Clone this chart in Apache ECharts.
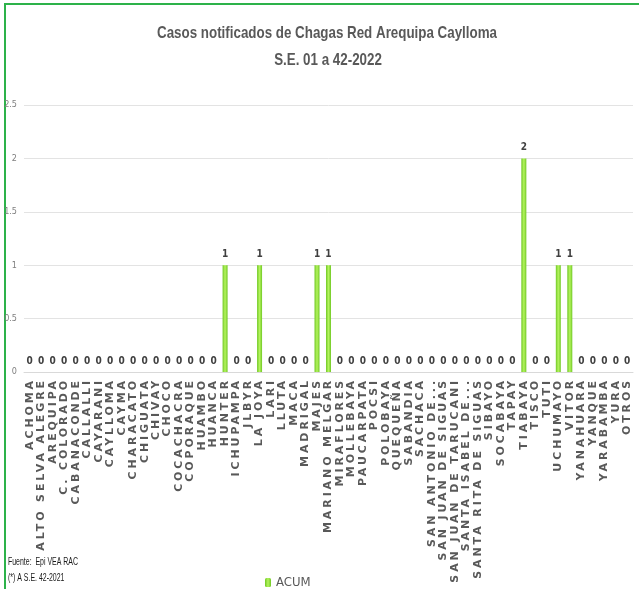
<!DOCTYPE html>
<html><head><meta charset="utf-8">
<script src="https://cdn.jsdelivr.net/npm/echarts@6/dist/echarts.min.js"></script>
<style>html,body{margin:0;padding:0;background:#fff}#c{width:639px;height:589px}</style>
</head><body><div id="c"></div>
<script>
const categories = ["ACHOMA","ALTO SELVA ALEGRE","AREQUIPA","C. COLORADO","CABANACONDE","CALLALLI","CAYARANI","CAYLLOMA","CAYMA","CHARACATO","CHIGUATA","CHIVAY","CHOCO","COCACHACRA","COPORAQUE","HUAMBO","HUANCA","HUNTER","ICHUPAMPA","JLBYR","LA JOYA","LARI","LLUTA","MACA","MADRIGAL","MAJES","MARIANO MELGAR","MIRAFLORES","MOLLEBAYA","PAUCARPATA","POCSI","POLOBAYA","QUEQUEÑA","SABANDIA","SACHACA","SAN ANTONIO DE...","SAN JUAN DE SIGUAS","SAN JUAN DE TARUCANI","SANTA ISABEL DE...","SANTA RITA DE SIGUAS","SIBAYO","SOCABAYA","TAPAY","TIABAYA","TISCO","TUTI","UCHUMAYO","VITOR","YANAHUARA","YANQUE","YARABAMBA","YURA","OTROS"];
const acum = [0,0,0,0,0,0,0,0,0,0,0,0,0,0,0,0,0,1,0,0,1,0,0,0,0,1,1,0,0,0,0,0,0,0,0,0,0,0,0,0,0,0,0,2,0,0,1,1,0,0,0,0,0];
const seriesName = "ACUM";
const titleLines = ["Casos notificados de Chagas Red Arequipa Caylloma","S.E. 01 a 42-2022"];
const notes = ["Fuente:  Epi VEA RAC","(*) A S.E. 42-2021"];

// wide letter spacing only for the category labels (still drawn as real text)
(function(){
  const proto = CanvasRenderingContext2D.prototype;
  const orig = proto.fillText;
  proto.fillText = function(t,x,y,m){
    if ('letterSpacing' in this) {
      const f = this.font || '';
      const wide = /\b11px\b/.test(f) && f.indexOf('Condensed') < 0 && f.indexOf('DejaVu Sans') >= 0;
      this.letterSpacing = wide ? '2.9px' : '0px';
    }
    return m === undefined ? orig.call(this,t,x,y) : orig.call(this,t,x,y,m);
  };
})();

const NARROW = 'DejaVu Sans Condensed';
const TFONT = 'bold 17px "Liberation Sans"';
const NFONT = '10px "Liberation Sans"';
const mctx = document.createElement('canvas').getContext('2d');
function widthOf(text, font){ mctx.font = font; return mctx.measureText(text).width; }
const t1Scale = 340 / widthOf(titleLines[0], TFONT);
const noteScale = 70 / widthOf(notes[0], NFONT);

const chart = echarts.init(document.getElementById('c'), null, {renderer:'canvas'});
const barColor = new echarts.graphic.LinearGradient(0,0,1,0,[
  {offset:0,color:'#70c824'},{offset:0.5,color:'#b4f45e'},{offset:1,color:'#70c824'}]);
function scaledText(text, x, y, font, scale, fill, align){
  return {type:'text', x:x, y:y, scaleX:scale, silent:true,
    style:{text:text, font:font, fill:fill, align:align, verticalAlign:'middle'}};
}
chart.setOption({
  animation:false,
  graphic:[
    {type:'rect',shape:{x:5,y:4,width:700,height:700},style:{fill:'none',stroke:'#2db24a',lineWidth:2},silent:true},
    scaledText(titleLines[0], 327, 33, TFONT, t1Scale, '#595959', 'center'),
    scaledText(titleLines[1], 328, 60, TFONT, t1Scale, '#595959', 'center'),
    scaledText(notes[0], 8, 562, NFONT, noteScale, '#1a1a1a', 'left'),
    scaledText(notes[1], 8, 578, NFONT, noteScale, '#1a1a1a', 'left')
  ],
  legend:{
    data:[seriesName], left:260, top:571, itemWidth:6, itemHeight:9, itemGap:2,
    textStyle:{fontFamily:NARROW,fontSize:13,color:'#595959'}
  },
  grid:{left:24,right:6,top:105,bottom:217,containLabel:false},
  xAxis:{
    type:'category', data:categories,
    axisLine:{show:true,lineStyle:{color:'#d9d9d9',width:1}},
    axisTick:{show:false},
    axisLabel:{interval:0,rotate:90,margin:6,fontFamily:'DejaVu Sans',fontWeight:'bold',fontSize:11,color:'#595959'}
  },
  yAxis:{
    type:'value', min:0, max:2.5, interval:0.5,
    axisLine:{show:false}, axisTick:{show:false},
    splitLine:{lineStyle:{color:'#e3e3e3',width:1}},
    axisLabel:{margin:7,fontFamily:NARROW,fontSize:9,color:'#7f7f7f'}
  },
  series:[{
    name:seriesName, type:'bar', data:acum, barWidth:5,
    itemStyle:{color:barColor},
    label:{show:true,position:'top',distance:6,fontFamily:NARROW,fontWeight:'bold',fontSize:10,color:'#404040'}
  }]
});
</script></body></html>
